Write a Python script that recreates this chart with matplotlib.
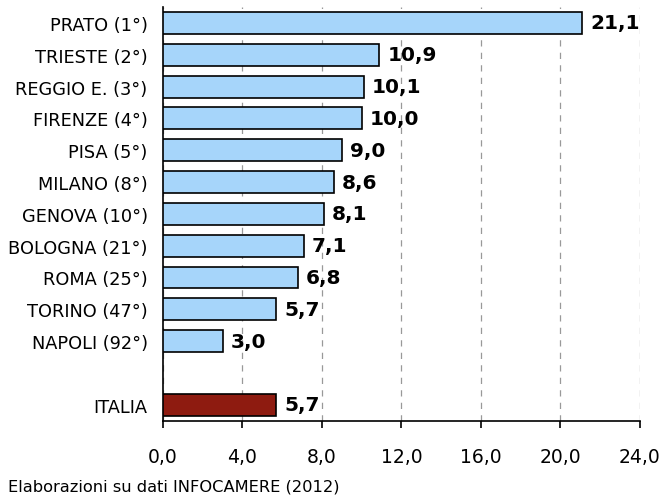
import matplotlib.pyplot as plt
import numpy as np

# dati
citta = ["PRATO (1°)", "TRIESTE (2°)", "REGGIO E. (3°)", "FIRENZE (4°)", "PISA (5°)",
         "MILANO (8°)", "GENOVA (10°)", "BOLOGNA (21°)", "ROMA (25°)", "TORINO (47°)",
         "NAPOLI (92°)"]
valori = [21.1, 10.9, 10.1, 10.0, 9.0, 8.6, 8.1, 7.1, 6.8, 5.7, 3.0]
italia_label = "ITALIA"
italia_val = 5.7
xticks = [0, 4, 8, 12, 16, 20, 24]

fig = plt.figure(figsize=(6.65, 5.02), dpi=100)
ax = fig.add_axes([0.245, 0.16, 0.717, 0.824])

ypos = np.arange(len(citta))
ax.barh(ypos, valori, height=0.69, color="#A6D5FA", edgecolor="black", linewidth=1.2, zorder=3)
y_it = len(citta) + 1
ax.barh(y_it, italia_val, height=0.69, color="#8E1B10", edgecolor="black", linewidth=1.2, zorder=3)

def fmt(v):
    return f"{v:.1f}".replace(".", ",")

for y, v in zip(ypos, valori):
    ax.text(v + 0.4, y, fmt(v), va="center", ha="left", fontsize=14.5, fontweight="bold", zorder=4)
ax.text(italia_val + 0.4, y_it, fmt(italia_val), va="center", ha="left", fontsize=14.5, fontweight="bold", zorder=4)

ax.set_yticks(list(ypos) + [y_it])
ax.set_yticklabels(citta + [italia_label], fontsize=12.8)
ax.tick_params(axis="y", length=0, pad=11)
ax.set_ylim(y_it + 0.5, -0.5)

ax.set_xlim(0, 24)
ax.set_xticks(xticks)
ax.set_xticklabels([fmt(t) for t in xticks], fontsize=13.5)
ax.tick_params(axis="x", direction="out", length=5, width=1.2, pad=14)

ax.grid(axis="x", color="#999999", linestyle=(0, (5, 5)), linewidth=0.9, zorder=0)
ax.spines["top"].set_visible(False)
ax.spines["right"].set_visible(False)
ax.spines["left"].set_linewidth(1.2)
ax.spines["bottom"].set_linewidth(1.2)

fig.text(0.012, 0.03, "Elaborazioni su dati INFOCAMERE (2012)", fontsize=11.7, ha="left", va="center")

fig.savefig("out.png", dpi=100)
